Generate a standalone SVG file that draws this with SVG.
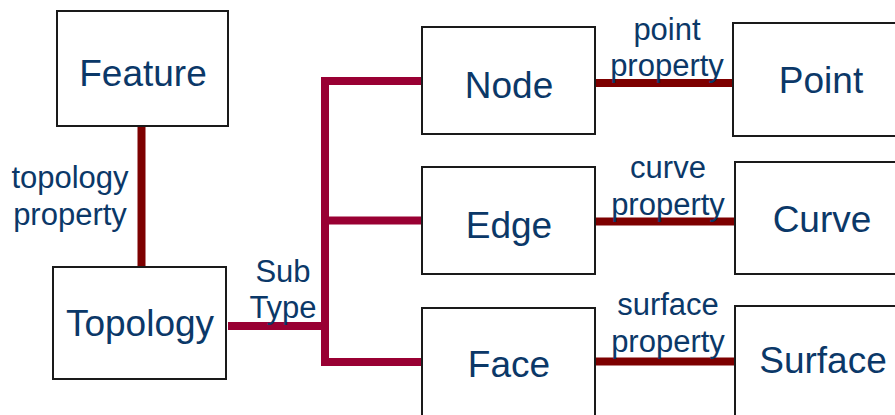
<svg xmlns="http://www.w3.org/2000/svg" width="895" height="415" viewBox="0 0 895 415">
  <style>
    .box { fill: #ffffff; stroke: #1a1a1a; stroke-width: 2; }
    .name { font-family: "Liberation Sans", Arial, sans-serif; font-size: 37px; fill: #0b3868; text-anchor: middle; }
    .lbl { font-family: "Liberation Sans", Arial, sans-serif; font-size: 31px; fill: #0b3868; text-anchor: middle; }
    .prop { stroke: #7d0000; stroke-width: 8; fill: none; }
    .sub { stroke: #990033; stroke-width: 8; fill: none; }
  </style>
  <rect width="895" height="415" fill="#ffffff"/>

  <!-- connectors -->
  <g id="connectors">
    <line class="prop" x1="141.5" y1="126" x2="141.5" y2="267"/>
    <path class="sub" d="M228 326 H325 M422 81 H325 V362 H422 M325 220.5 H422"/>
    <line class="prop" x1="595" y1="83" x2="734" y2="83"/>
    <line class="prop" x1="595" y1="221.5" x2="736" y2="221.5"/>
    <line class="prop" x1="595" y1="361.5" x2="736" y2="361.5"/>
  </g>

  <!-- connector labels -->
  <g id="labels">
    <text class="lbl" x="70" y="188">topology</text>
    <text class="lbl" x="70" y="225">property</text>
    <text class="lbl" x="283" y="282">Sub</text>
    <text class="lbl" x="283" y="318">Type</text>
    <text class="lbl" x="667" y="40">point</text>
    <text class="lbl" x="667" y="76">property</text>
    <text class="lbl" x="668" y="178">curve</text>
    <text class="lbl" x="668" y="215">property</text>
    <text class="lbl" x="668" y="315">surface</text>
    <text class="lbl" x="668" y="352">property</text>
  </g>

  <g id="feature">
    <rect class="box" x="57" y="11" width="171" height="115"/>
    <text class="name" x="143" y="86">Feature</text>
  </g>
  <g id="topology">
    <rect class="box" x="53" y="267" width="173" height="112"/>
    <text class="name" x="140" y="336">Topology</text>
  </g>
  <g id="node">
    <rect class="box" x="422" y="27" width="173" height="107"/>
    <text class="name" x="509" y="98">Node</text>
  </g>
  <g id="edge">
    <rect class="box" x="422" y="167" width="173" height="107"/>
    <text class="name" x="509" y="238">Edge</text>
  </g>
  <g id="face">
    <rect class="box" x="422" y="308" width="173" height="120"/>
    <text class="name" x="509" y="377">Face</text>
  </g>
  <g id="point">
    <rect class="box" x="733" y="23" width="180" height="113"/>
    <text class="name" x="821" y="93">Point</text>
  </g>
  <g id="curve">
    <rect class="box" x="735" y="162" width="180" height="112"/>
    <text class="name" x="822" y="232">Curve</text>
  </g>
  <g id="surface">
    <rect class="box" x="735" y="306" width="180" height="120"/>
    <text class="name" x="823" y="373">Surface</text>
  </g>
</svg>
